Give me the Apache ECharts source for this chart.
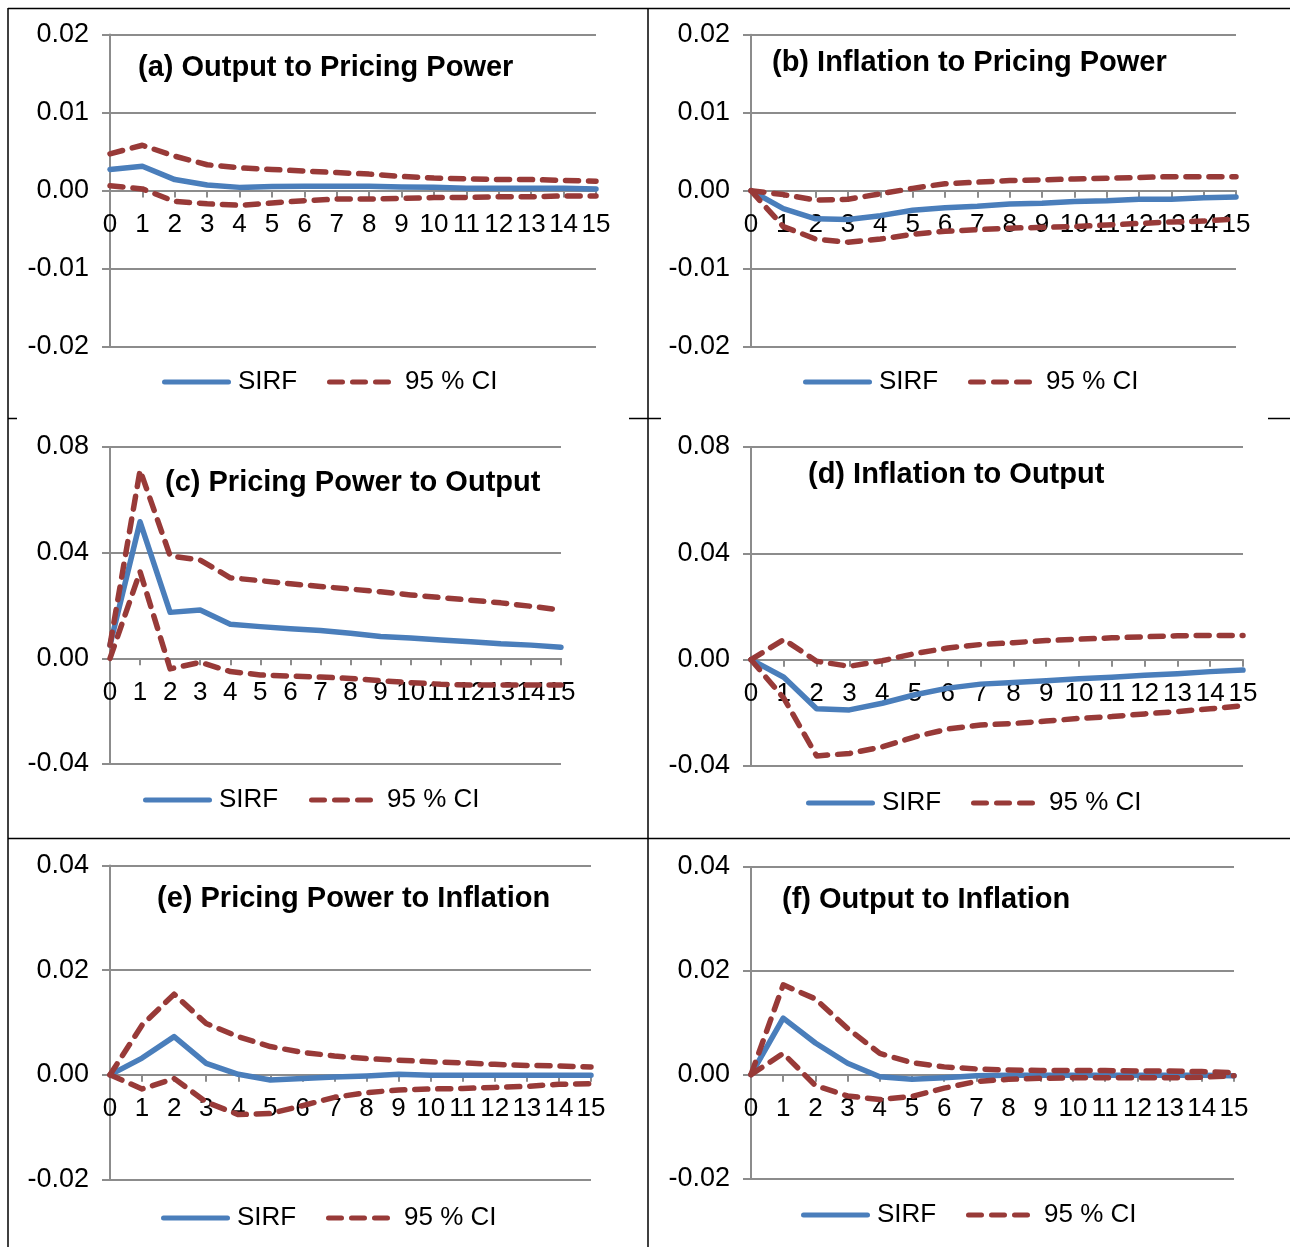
<!DOCTYPE html>
<html>
<head>
<meta charset="utf-8">
<script src="https://cdn.jsdelivr.net/npm/echarts@6/dist/echarts.min.js"></script>
<style>
  html, body { margin: 0; padding: 0; background: #ffffff; }
  #chart { width: 1290px; height: 1247px; }
</style>
</head>
<body>
<div id="chart"></div>
<script>
// Horizon (periods after the shock)
const periods = ['0','1','2','3','4','5','6','7','8','9','10','11','12','13','14','15'];

// Panel titles
const panelTitles = [
  '(a) Output to Pricing Power',
  '(b) Inflation to Pricing Power',
  '(c) Pricing Power to Output',
  '(d) Inflation to Output',
  '(e) Pricing Power to Inflation',
  '(f) Output to Inflation'
];

// (a) Output to Pricing Power
const sirfA  = [0.0027, 0.0031, 0.0014, 0.0007, 0.0004, 0.0005, 0.00055, 0.00055, 0.00055, 0.00045, 0.00043, 0.0003, 0.0003, 0.0003, 0.0003, 0.0002];
const upperA = [0.0047, 0.0058, 0.0044, 0.0033, 0.0029, 0.0027, 0.0025, 0.0023, 0.0021, 0.0018, 0.0016, 0.0015, 0.0014, 0.0014, 0.0013, 0.0012];
const lowerA = [0.0006, 0.0002, -0.0014, -0.0017, -0.0019, -0.0016, -0.0013, -0.0011, -0.0011, -0.0010, -0.0009, -0.0009, -0.0008, -0.0008, -0.0007, -0.0007];

// (b) Inflation to Pricing Power
const sirfB  = [0, -0.0023, -0.0036, -0.0037, -0.0032, -0.0025, -0.0022, -0.0020, -0.0017, -0.0016, -0.0014, -0.0013, -0.0011, -0.0011, -0.0009, -0.0008];
const upperB = [0, -0.0005, -0.0012, -0.0011, -0.0004, 0.0003, 0.0009, 0.0011, 0.0013, 0.0014, 0.0015, 0.0016, 0.0017, 0.0018, 0.0018, 0.0018];
const lowerB = [0, -0.0046, -0.0062, -0.0066, -0.0062, -0.0056, -0.0052, -0.0050, -0.0048, -0.0047, -0.0046, -0.0044, -0.0042, -0.0040, -0.0039, -0.0036];

// (c) Pricing Power to Output
const sirfC  = [0.005, 0.0517, 0.0174, 0.0183, 0.0129, 0.0120, 0.0112, 0.0105, 0.0095, 0.0083, 0.0077, 0.0069, 0.0063, 0.0055, 0.0050, 0.0042];
const upperC = [0.005, 0.0712, 0.0388, 0.0372, 0.0305, 0.0294, 0.0282, 0.0272, 0.0262, 0.0252, 0.0240, 0.0230, 0.0220, 0.0210, 0.0197, 0.0183];
const lowerC = [0, 0.0328, -0.0040, -0.0015, -0.0050, -0.0063, -0.0067, -0.0071, -0.0076, -0.0085, -0.0092, -0.0098, -0.0101, -0.0101, -0.0101, -0.0101];

// (d) Inflation to Output
const sirfD  = [0, -0.0066, -0.0185, -0.0189, -0.0164, -0.0132, -0.0107, -0.0092, -0.0086, -0.0079, -0.0072, -0.0066, -0.0059, -0.0053, -0.0045, -0.0039];
const upperD = [0, 0.0076, -0.0006, -0.0025, -0.0004, 0.0023, 0.0044, 0.0057, 0.0064, 0.0072, 0.0077, 0.0082, 0.0086, 0.0090, 0.0091, 0.0091];
const lowerD = [0, -0.0145, -0.0362, -0.0353, -0.0328, -0.0290, -0.0261, -0.0246, -0.0240, -0.0231, -0.0221, -0.0214, -0.0204, -0.0195, -0.0185, -0.0173];

// (e) Pricing Power to Inflation
const sirfE  = [0, 0.0032, 0.0073, 0.0022, 0.0001, -0.0010, -0.0007, -0.0004, -0.0002, 0.0001, -0.0001, -0.0001, -0.0001, -0.0001, -0.0001, -0.0001];
const upperE = [0, 0.0095, 0.0154, 0.0098, 0.0073, 0.0054, 0.0043, 0.0036, 0.0031, 0.0028, 0.0025, 0.0023, 0.0020, 0.0018, 0.0017, 0.0015];
const lowerE = [0, -0.0027, -0.0007, -0.0052, -0.0076, -0.0074, -0.0059, -0.0043, -0.0034, -0.0029, -0.0027, -0.0026, -0.0024, -0.0022, -0.0018, -0.0017];

// (f) Output to Inflation
const sirfF  = [0, 0.0109, 0.0061, 0.0022, -0.0004, -0.0009, -0.0006, -0.0002, -0.0001, -0.0001, -0.0001, -0.0001, -0.0001, -0.0001, -0.0001, -0.0002];
const upperF = [0, 0.0173, 0.0146, 0.0089, 0.0041, 0.0023, 0.0015, 0.0011, 0.0009, 0.0008, 0.0008, 0.0008, 0.0007, 0.0007, 0.0006, 0.0004];
const lowerF = [0, 0.0041, -0.0021, -0.0041, -0.0048, -0.0042, -0.0026, -0.0013, -0.0009, -0.0007, -0.0006, -0.0006, -0.0006, -0.0006, -0.0005, -0.0002];

// Value-axis ranges per panel
const axisMin  = [-0.02, -0.02, -0.04, -0.04, -0.02, -0.02];
const axisMax  = [ 0.02,  0.02,  0.08,  0.08,  0.04,  0.04];
const axisStep = [ 0.01,  0.01,  0.04,  0.04,  0.02,  0.02];

const sirfSeries  = [sirfA, sirfB, sirfC, sirfD, sirfE, sirfF];
const upperSeries = [upperA, upperB, upperC, upperD, upperE, upperF];
const lowerSeries = [lowerA, lowerB, lowerC, lowerD, lowerE, lowerF];

// ---- styling ----
const FONT = '"Liberation Sans", Arial, Helvetica, sans-serif';
const BLUE = '#4a7ebb';
const RED = '#983a38';
const GRAY = '#8c8c8c';

// Legend swatches: a rounded solid bar and three rounded dashes
const SOLID_ICON = 'path://M2.5,0L66.5,0A2.5,2.5,0,0,1,66.5,5L2.5,5A2.5,2.5,0,0,1,2.5,0Z';
const DASH_ICON = 'path://M2.5,0L15.5,0A2.5,2.5,0,0,1,15.5,5L2.5,5A2.5,2.5,0,0,1,2.5,0Z' +
  'M25.5,0L38.5,0A2.5,2.5,0,0,1,38.5,5L25.5,5A2.5,2.5,0,0,1,25.5,0Z' +
  'M48.5,0L61.5,0A2.5,2.5,0,0,1,61.5,5L48.5,5A2.5,2.5,0,0,1,48.5,0Z';

// Panel geometry (grid rectangle, title anchor, legend anchors)
const layout = [
  { grid: { left: 110, top: 34.5, width: 486, height: 312 }, title: { left: 138, cy: 68 },  legend: { sirf: 162, ci: 327, cy: 382 } },
  { grid: { left: 751, top: 34.7, width: 485, height: 312 }, title: { left: 772, cy: 63 },  legend: { sirf: 803, ci: 968, cy: 382 } },
  { grid: { left: 110, top: 447,  width: 451, height: 317 }, title: { left: 165, cy: 483 }, legend: { sirf: 143, ci: 309, cy: 800 } },
  { grid: { left: 751, top: 447,  width: 492, height: 319 }, title: { left: 808, cy: 475 }, legend: { sirf: 806, ci: 971, cy: 803 } },
  { grid: { left: 110, top: 865.5,width: 481, height: 314 }, title: { left: 157, cy: 899 }, legend: { sirf: 161, ci: 326, cy: 1218 } },
  { grid: { left: 751, top: 867,  width: 483, height: 311.5 }, title: { left: 782, cy: 900 }, legend: { sirf: 801, ci: 966, cy: 1215 } }
];

const grids = [], xAxes = [], yAxes = [], series = [], titles = [], legends = [];

layout.forEach((p, i) => {
  grids.push(Object.assign({ containLabel: false }, p.grid));

  // the category axis sits on the zero line: lift it from the grid bottom
  const liftToZero = -p.grid.height * (0 - axisMin[i]) / (axisMax[i] - axisMin[i]);

  xAxes.push({
    type: 'category',
    gridIndex: i,
    position: 'bottom',
    offset: liftToZero,
    data: periods,
    boundaryGap: false,
    axisLine: { show: true, onZero: false, lineStyle: { color: GRAY, width: 2 } },
    axisTick: { show: true, interval: 0, length: 7, lineStyle: { color: GRAY, width: 2 } },
    axisLabel: { interval: 0, margin: 21, fontSize: 26, color: '#000', fontFamily: FONT, hideOverlap: false },
    splitLine: { show: false }
  });

  yAxes.push({
    type: 'value',
    gridIndex: i,
    min: axisMin[i],
    max: axisMax[i],
    interval: axisStep[i],
    axisLine: { show: true, lineStyle: { color: GRAY, width: 2 } },
    axisTick: { show: true, length: 8, lineStyle: { color: GRAY, width: 2 } },
    axisLabel: {
      margin: 21, fontSize: 27, color: '#000', fontFamily: FONT,
      formatter: v => v.toFixed(2)
    },
    splitLine: { show: true, lineStyle: { color: GRAY, width: 2 } }
  });

  series.push({
    type: 'line', name: 'SIRF', xAxisIndex: i, yAxisIndex: i,
    data: sirfSeries[i], symbol: 'none',
    lineStyle: { color: BLUE, width: 5.5, cap: 'round', join: 'round' },
    itemStyle: { color: BLUE }, z: 3
  });
  [upperSeries[i], lowerSeries[i]].forEach(band => {
    series.push({
      type: 'line', name: '95 % CI', xAxisIndex: i, yAxisIndex: i,
      data: band, symbol: 'none',
      lineStyle: { color: RED, width: 5.5, type: [13, 10], cap: 'round', join: 'round' },
      itemStyle: { color: RED }, z: 4
    });
  });

  titles.push({
    text: panelTitles[i],
    left: p.title.left,
    top: p.title.cy - 17,
    padding: 0,
    textStyle: { fontSize: 29, fontWeight: 'bold', color: '#000', fontFamily: FONT, lineHeight: 34 }
  });

  legends.push({
    data: ['SIRF'], icon: SOLID_ICON, itemWidth: 69, itemHeight: 5,
    left: p.legend.sirf, top: p.legend.cy - 13, padding: 0,
    selectedMode: false,
    textStyle: { fontSize: 26, color: '#000', fontFamily: FONT, lineHeight: 26, padding: [0, 0, 0, 2] }
  });
  legends.push({
    data: ['95 % CI'], icon: DASH_ICON, itemWidth: 64, itemHeight: 5,
    left: p.legend.ci, top: p.legend.cy - 13, padding: 0,
    selectedMode: false,
    textStyle: { fontSize: 26, color: '#000', fontFamily: FONT, lineHeight: 26, padding: [0, 0, 0, 9] }
  });
});

// Table rules framing the six panels
const rule = (x1, y1, x2, y2) => ({
  type: 'line', silent: true, z: 0,
  shape: { x1, y1, x2, y2 },
  style: { stroke: '#000', lineWidth: 1.5 }
});
const tableRules = [
  rule(8, 8.5, 1290, 8.5),
  rule(8, 8, 8, 1247),
  rule(648, 8, 648, 1247),
  rule(8, 838.5, 1290, 838.5),
  rule(8, 418.5, 17, 418.5),
  rule(629, 418.5, 661, 418.5),
  rule(1268, 418.5, 1290, 418.5)
];

const chart = echarts.init(document.getElementById('chart'), null, { renderer: 'canvas' });
chart.setOption({
  animation: false,
  backgroundColor: '#ffffff',
  textStyle: { fontFamily: FONT },
  title: titles,
  legend: legends,
  grid: grids,
  xAxis: xAxes,
  yAxis: yAxes,
  series: series,
  graphic: tableRules
});
</script>
</body>
</html>
